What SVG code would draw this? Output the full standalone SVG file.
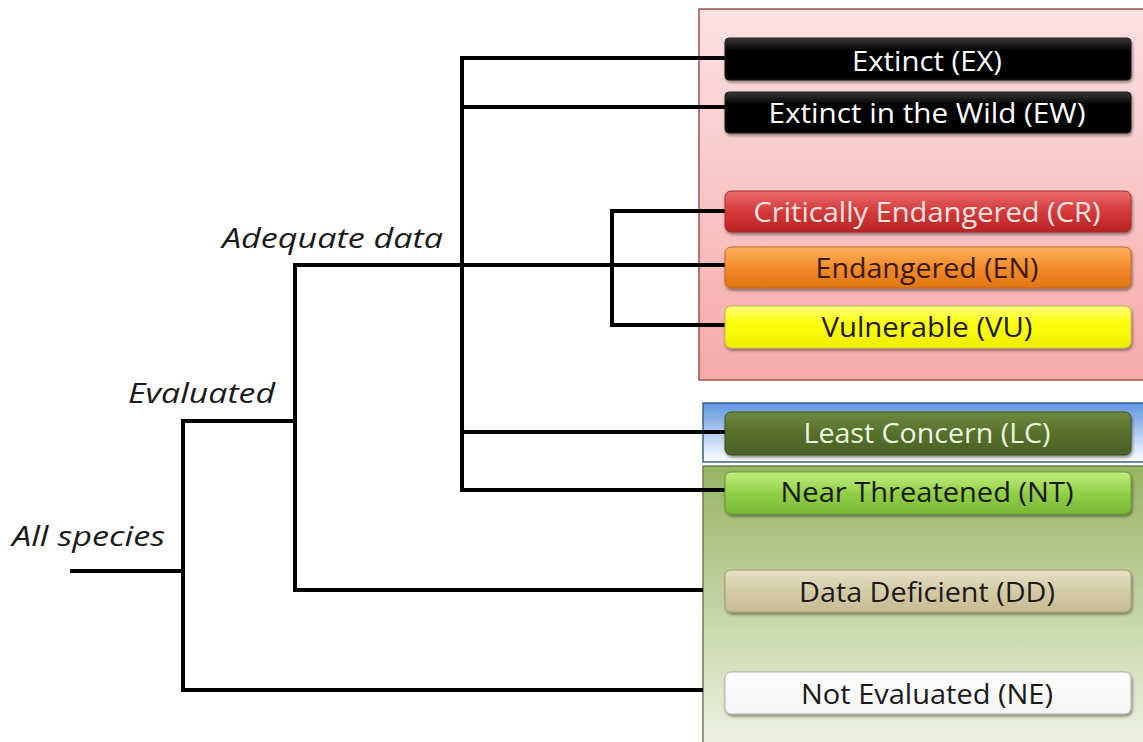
<svg xmlns="http://www.w3.org/2000/svg" width="1143" height="742" viewBox="0 0 1143 742">
<defs>
<linearGradient id="gRed" x1="0" y1="0" x2="0" y2="1"><stop offset="0" stop-color="#fde2e2"/><stop offset="1" stop-color="#f6a9a9"/></linearGradient>
<linearGradient id="gBlue" x1="0" y1="0" x2="0" y2="1"><stop offset="0" stop-color="#5f97e0"/><stop offset="1" stop-color="#ffffff"/></linearGradient>
<linearGradient id="gGreen" x1="0" y1="0" x2="0" y2="1"><stop offset="0" stop-color="#97b564"/><stop offset="1" stop-color="#f2f5e8"/></linearGradient>
<linearGradient id="bBlack" x1="0" y1="0" x2="0" y2="1"><stop offset="0" stop-color="#3a3a3a"/><stop offset="0.3" stop-color="#000"/><stop offset="1" stop-color="#000"/></linearGradient>
<linearGradient id="bCR" x1="0" y1="0" x2="0" y2="1"><stop offset="0" stop-color="#e86a6a"/><stop offset="0.5" stop-color="#d43a3a"/><stop offset="1" stop-color="#b82222"/></linearGradient>
<linearGradient id="bEN" x1="0" y1="0" x2="0" y2="1"><stop offset="0" stop-color="#fbb25c"/><stop offset="0.5" stop-color="#f38b2b"/><stop offset="1" stop-color="#e07414"/></linearGradient>
<linearGradient id="bVU" x1="0" y1="0" x2="0" y2="1"><stop offset="0" stop-color="#ffff80"/><stop offset="0.4" stop-color="#ffff10"/><stop offset="1" stop-color="#eeee00"/></linearGradient>
<linearGradient id="bLC" x1="0" y1="0" x2="0" y2="1"><stop offset="0" stop-color="#6e8a3e"/><stop offset="0.5" stop-color="#566f2c"/><stop offset="1" stop-color="#4a6124"/></linearGradient>
<linearGradient id="bNT" x1="0" y1="0" x2="0" y2="1"><stop offset="0" stop-color="#c2ef80"/><stop offset="0.5" stop-color="#92d048"/><stop offset="1" stop-color="#78b834"/></linearGradient>
<linearGradient id="bDD" x1="0" y1="0" x2="0" y2="1"><stop offset="0" stop-color="#e6dfc4"/><stop offset="0.5" stop-color="#d4cba6"/><stop offset="1" stop-color="#c6bb92"/></linearGradient>
<linearGradient id="bNE" x1="0" y1="0" x2="0" y2="1"><stop offset="0" stop-color="#ffffff"/><stop offset="1" stop-color="#f4f4f4"/></linearGradient>
<filter id="sh" x="-5%" y="-20%" width="110%" height="160%"><feDropShadow dx="1" dy="2" stdDeviation="1.5" flood-color="#000" flood-opacity="0.45"/></filter>
</defs>
<style>
.box{stroke-width:1;filter:url(#sh)}
.bt{font-family:"Open Sans","Liberation Sans",sans-serif;font-size:27px;text-anchor:middle}
.w{fill:#ffffff}
.d{fill:#1a1a1a}
.lbl{font-family:"Open Sans","Liberation Sans",sans-serif;font-style:italic;font-size:28px;fill:#1a1a1a}
.ln{stroke:#000;stroke-width:4;fill:none;stroke-linecap:square}
</style>
<rect width="1143" height="742" fill="#ffffff"/>
<g id="panels">
<rect x="699" y="9" width="450" height="371" fill="url(#gRed)" stroke="#a05050" stroke-width="1.5"/>
<rect x="703" y="403" width="450" height="59" fill="url(#gBlue)" stroke="#3a5f90" stroke-width="1.5"/>
<rect x="703" y="466" width="450" height="290" fill="url(#gGreen)" stroke="#6a7f50" stroke-width="1.5"/>
</g>
<g id="connectors">
<path class="ln" d="M72 571H183M183 421V690M183 421H295M183 690H701"/>
<path class="ln" d="M295 265V590M295 265H725M295 590H701"/>
<path class="ln" d="M462 58V490M462 58H725M462 107H725M462 432H725M462 490H725"/>
<path class="ln" d="M612 211V325M612 211H725M612 325H725"/>
</g>
<g id="labels">
<text class="lbl" x="12" y="546" textLength="153" lengthAdjust="spacingAndGlyphs">All species</text>
<text class="lbl" x="128" y="403" textLength="147" lengthAdjust="spacingAndGlyphs">Evaluated</text>
<text class="lbl" x="222" y="248" textLength="221" lengthAdjust="spacingAndGlyphs">Adequate data</text>
</g>
<g id="EX"><rect class="box" x="725" y="38" width="406" height="42" rx="4" fill="url(#bBlack)" stroke="#222"/><text class="bt w" x="927" y="71" textLength="150" lengthAdjust="spacingAndGlyphs">Extinct (EX)</text></g>
<g id="EW"><rect class="box" x="725" y="92" width="406" height="41" rx="4" fill="url(#bBlack)" stroke="#222"/><text class="bt w" x="927" y="123" textLength="317" lengthAdjust="spacingAndGlyphs">Extinct in the Wild (EW)</text></g>
<g id="CR"><rect class="box" x="725" y="191" width="406" height="41" rx="6" fill="url(#bCR)" stroke="#a03030"/><text class="bt" fill="#fbe4e4" x="927" y="222" textLength="347" lengthAdjust="spacingAndGlyphs">Critically Endangered (CR)</text></g>
<g id="EN"><rect class="box" x="725" y="247" width="406" height="41" rx="6" fill="url(#bEN)" stroke="#c06a20"/><text class="bt" fill="#3a1a06" x="927" y="278" textLength="223" lengthAdjust="spacingAndGlyphs">Endangered (EN)</text></g>
<g id="VU"><rect class="box" x="725" y="306" width="406" height="42" rx="6" fill="url(#bVU)" stroke="#c0c040"/><text class="bt d" x="927" y="337" textLength="211" lengthAdjust="spacingAndGlyphs">Vulnerable (VU)</text></g>
<g id="LC"><rect class="box" x="725" y="412" width="406" height="43" rx="6" fill="url(#bLC)" stroke="#3d5020"/><text class="bt" fill="#eef5e0" x="927" y="443" textLength="247" lengthAdjust="spacingAndGlyphs">Least Concern (LC)</text></g>
<g id="NT"><rect class="box" x="725" y="472" width="406" height="42" rx="6" fill="url(#bNT)" stroke="#6a9a30"/><text class="bt d" x="927" y="502" textLength="293" lengthAdjust="spacingAndGlyphs">Near Threatened (NT)</text></g>
<g id="DD"><rect class="box" x="725" y="570" width="406" height="42" rx="6" fill="url(#bDD)" stroke="#a89e78"/><text class="bt d" x="927" y="602" textLength="256" lengthAdjust="spacingAndGlyphs">Data Deficient (DD)</text></g>
<g id="NE"><rect class="box" x="725" y="672" width="406" height="42" rx="6" fill="url(#bNE)" stroke="#b0b0b0"/><text class="bt d" x="927" y="704" textLength="252" lengthAdjust="spacingAndGlyphs">Not Evaluated (NE)</text></g>
</svg>
